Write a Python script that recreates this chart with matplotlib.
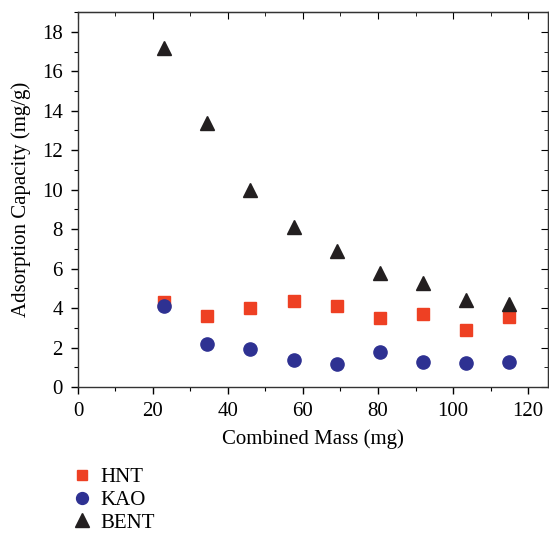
import matplotlib.pyplot as plt
from matplotlib.ticker import MultipleLocator

plt.rcParams.update({'font.size': 15, 'font.family': 'Liberation Serif'})

mass = [23, 34.5, 46, 57.5, 69, 80.5, 92, 103.5, 115]
hnt = [4.3, 3.6, 4.0, 4.35, 4.1, 3.5, 3.7, 2.9, 3.55]
kao = [4.1, 2.2, 1.95, 1.4, 1.15, 1.8, 1.25, 1.2, 1.25]
bent = [17.2, 13.4, 10.0, 8.1, 6.9, 5.8, 5.25, 4.4, 4.2]

fig = plt.figure(figsize=(5.49, 5.34), dpi=100)
ax = fig.add_axes([0.142, 0.275, 0.856, 0.7025])

ax.plot(mass, hnt, 's', color='#EE4023', ms=8.5, label='HNT', zorder=3)
ax.plot(mass, kao, 'o', color='#2E3192', ms=9.5, label='KAO', zorder=3)
ax.plot(mass, bent, '^', color='#231F20', ms=10.5, label='BENT', zorder=3)

ax.set_xlim(0, 125.3)
ax.set_ylim(0, 19)
ax.xaxis.set_major_locator(MultipleLocator(20))
ax.xaxis.set_minor_locator(MultipleLocator(10))
ax.yaxis.set_major_locator(MultipleLocator(2))
ax.yaxis.set_minor_locator(MultipleLocator(1))

ax.tick_params(which='both', direction='out', top=False, right=False)
ax.tick_params(which='major', length=5, width=1, pad=6)
ax.tick_params(which='minor', length=3, width=0.8)

# mirrored ticks pointing inward on top/right
ax2 = ax.secondary_xaxis('top')
ax2.xaxis.set_major_locator(MultipleLocator(20))
ax2.xaxis.set_minor_locator(MultipleLocator(10))
ax2.tick_params(which='both', direction='in', labeltop=False)
ax2.tick_params(which='major', length=5)
ax2.tick_params(which='minor', length=3)
ax3 = ax.secondary_yaxis('right')
ax3.yaxis.set_major_locator(MultipleLocator(2))
ax3.yaxis.set_minor_locator(MultipleLocator(1))
ax3.tick_params(which='both', direction='in', labelright=False)
ax3.tick_params(which='major', length=5)
ax3.tick_params(which='minor', length=3)

for s in ax.spines.values():
    s.set_linewidth(1)
    s.set_color('#333333')

ax.set_xlabel('Combined Mass (mg)', labelpad=6)
ax.set_ylabel('Adsorption Capacity (mg/g)', labelpad=8)

leg = fig.legend(loc='upper left', frameon=False,
                 handlelength=1.0, handletextpad=0.4, labelspacing=0.15,
                 borderaxespad=0, borderpad=0, markerscale=0.9)
leg.set_bbox_to_anchor((0.13, 0.124), transform=fig.transFigure)

fig.savefig('out.png', dpi=100)
